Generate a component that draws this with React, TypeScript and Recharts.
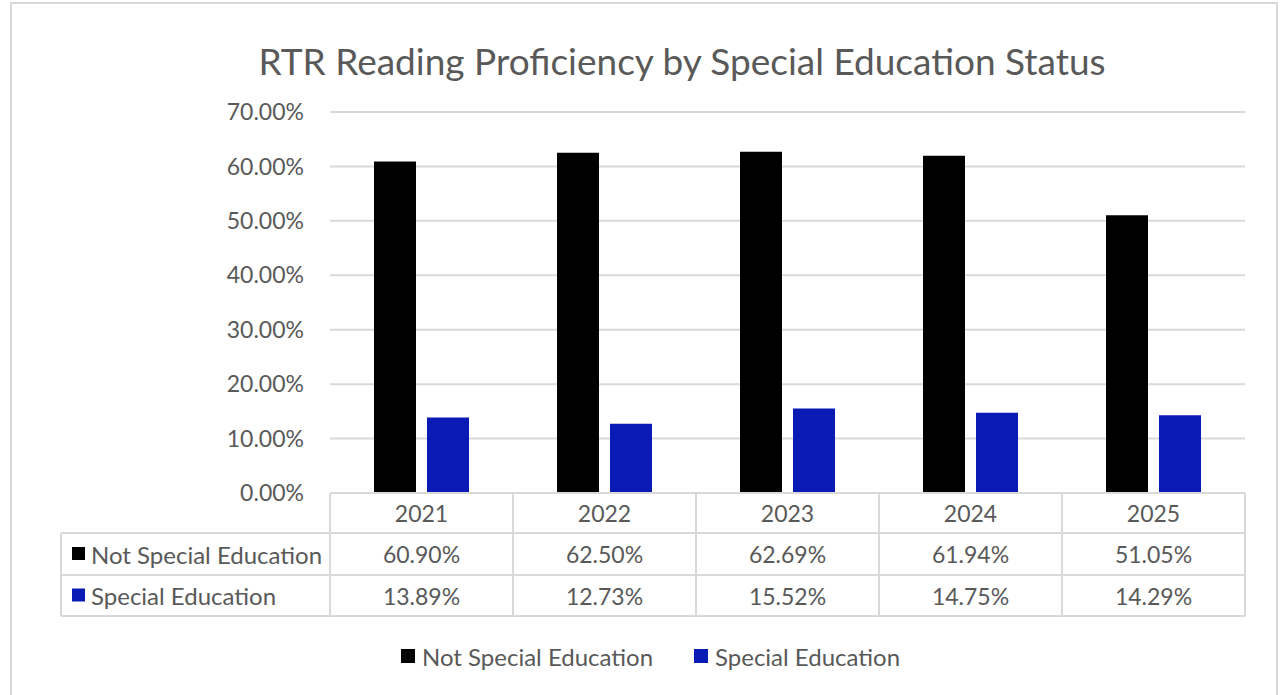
import { BarChart, Bar, XAxis, YAxis, CartesianGrid, Customized } from 'recharts';

const years = ['2021', '2022', '2023', '2024', '2025'];
const notSpecialEd = [60.9, 62.5, 62.69, 61.94, 51.05];
const specialEd = [13.89, 12.73, 15.52, 14.75, 14.29];
const yTicks = [0, 10, 20, 30, 40, 50, 60, 70];

const series = [
  { key: 'notSpecialEd', name: 'Not Special Education', color: '#000000', values: notSpecialEd },
  { key: 'specialEd', name: 'Special Education', color: '#0a1ab4', values: specialEd },
];

const data = years.map((year, i) => ({
  year,
  notSpecialEd: notSpecialEd[i],
  specialEd: specialEd[i],
}));

// layout
const W = 1282;
const H = 695;
const M = { top: 112, right: 37, bottom: 79, left: 250 };
const Y_W = 80;
const X_H = 123;
const PLOT_L = M.left + Y_W;
const PLOT_R = W - M.right;
const BAND = (PLOT_R - PLOT_L) / years.length;
const AXIS_Y = H - M.bottom - X_H;
const ROW_EDGES = [0, 40, 82, 123]; // offsets of table row lines below the axis
const TABLE_L = 61;

const FONT = 'Lato, "Open Sans", sans-serif';
const TEXT = '#595959';
const LINE = '#d9d9d9';
const FS_NUM = 23;
const FS_LBL = 24;

const pct = (v: number) => `${v.toFixed(2)}%`;
const rowMid = (r: number) => (ROW_EDGES[r] + ROW_EDGES[r + 1]) / 2;

function TableTick(props: any) {
  const { x, y, payload, index } = props;
  const l = x - BAND / 2;
  const r = x + BAND / 2;
  return (
    <g>
      {index === 0 && <line x1={l} y1={y} x2={l} y2={y + ROW_EDGES[3]} stroke={LINE} strokeWidth={2} />}
      <line x1={r} y1={y} x2={r} y2={y + ROW_EDGES[3]} stroke={LINE} strokeWidth={2} />
      {ROW_EDGES.slice(1).map((e) => (
        <line key={e} x1={l} y1={y + e} x2={r} y2={y + e} stroke={LINE} strokeWidth={2} />
      ))}
      <text x={x} y={y + rowMid(0)} textAnchor="middle" dominantBaseline="central" fill={TEXT} fontSize={FS_NUM}>
        {payload.value}
      </text>
      {series.map((s, i) => (
        <text key={s.key} x={x} y={y + rowMid(i + 1)} textAnchor="middle" dominantBaseline="central" fill={TEXT} fontSize={FS_NUM}>
          {pct(s.values[index])}
        </text>
      ))}
    </g>
  );
}

// row headers of the data table, legend, title and outer frame
function Extras() {
  const legendX = [401, 694];
  return (
    <g fontFamily={FONT}>
      <rect x={11} y={3} width={1266} height={720} fill="none" stroke={LINE} strokeWidth={2} />
      <text x={682} y={60} textAnchor="middle" dominantBaseline="central" fill={TEXT} fontSize={37}>
        RTR Reading Proficiency by Special Education Status
      </text>
      <line x1={TABLE_L} y1={AXIS_Y + ROW_EDGES[1]} x2={TABLE_L} y2={AXIS_Y + ROW_EDGES[3]} stroke={LINE} strokeWidth={2} />
      {ROW_EDGES.slice(1).map((e) => (
        <line key={e} x1={TABLE_L} y1={AXIS_Y + e} x2={PLOT_L} y2={AXIS_Y + e} stroke={LINE} strokeWidth={2} />
      ))}
      {series.map((s, i) => (
        <g key={s.key}>
          <rect x={72} y={AXIS_Y + rowMid(i + 1) - 7} width={13} height={13} fill={s.color} />
          <text x={91} y={AXIS_Y + rowMid(i + 1)} dominantBaseline="central" fill={TEXT} fontSize={FS_LBL}>
            {s.name}
          </text>
        </g>
      ))}
      {series.map((s, i) => (
        <g key={s.key}>
          <rect x={legendX[i]} y={649} width={14} height={14} fill={s.color} />
          <text x={legendX[i] + 21} y={656} dominantBaseline="central" fill={TEXT} fontSize={FS_LBL}>
            {s.name}
          </text>
        </g>
      ))}
    </g>
  );
}

export default function App() {
  return (
    <div style={{ position: 'absolute', left: 0, top: 0, width: W, height: H, background: '#fff', fontFamily: FONT }}>
      <BarChart width={W} height={H} data={data} margin={M} barSize={42} barGap={11}>
        <CartesianGrid vertical={false} stroke={LINE} strokeWidth={2} />
        <XAxis
          dataKey="year"
          height={X_H}
          axisLine={{ stroke: LINE, strokeWidth: 2 }}
          tickLine={false}
          tickSize={0}
          tickMargin={0}
          interval={0}
          tick={<TableTick />}
        />
        <YAxis
          width={Y_W}
          domain={[0, 70]}
          ticks={yTicks}
          tickFormatter={pct}
          axisLine={false}
          tickLine={false}
          tickSize={0}
          tickMargin={26}
          tick={{ fill: TEXT, fontSize: FS_NUM }}
        />
        {series.map((s) => (
          <Bar key={s.key} dataKey={s.key} name={s.name} fill={s.color} isAnimationActive={false} />
        ))}
        <Customized component={<Extras />} />
      </BarChart>
    </div>
  );
}
